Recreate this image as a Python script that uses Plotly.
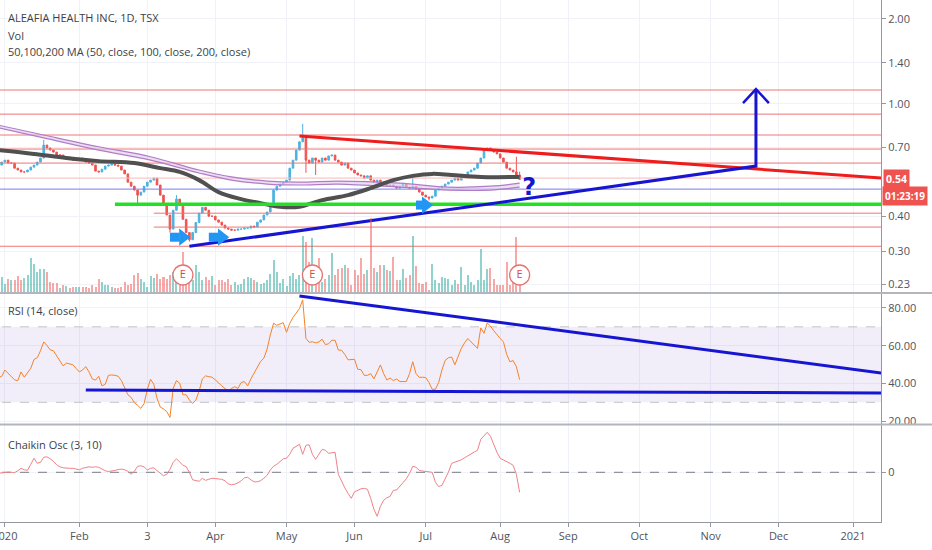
import numpy as np
import pandas as pd
import plotly.graph_objects as go
from plotly.subplots import make_subplots

# trading days shown on the chart (Dec 30 2019 .. Aug 11 2020)
days = pd.bdate_range("2019-12-30", "2020-08-11")

close = [0.607, 0.622,
         0.632, 0.617, 0.617, 0.592, 0.583, 0.574, 0.574, 0.583, 0.597, 0.607, 0.622, 0.643,
         0.715, 0.698, 0.686, 0.675, 0.659, 0.659, 0.648, 0.648, 0.643, 0.632, 0.632,
         0.643, 0.632, 0.622, 0.617, 0.607, 0.578, 0.574, 0.587, 0.602, 0.607, 0.612, 0.607,
         0.602, 0.583, 0.565, 0.528, 0.511, 0.495, 0.475, 0.487,
         0.511, 0.528, 0.537, 0.546, 0.516, 0.475, 0.438, 0.404, 0.36, 0.42, 0.46, 0.44,
         0.39, 0.35, 0.33, 0.35, 0.38, 0.41, 0.43, 0.42, 0.40, 0.40,
         0.388, 0.381, 0.372, 0.363, 0.36, 0.357, 0.357, 0.36, 0.36, 0.363, 0.363, 0.369,
         0.366, 0.381, 0.388, 0.404, 0.414, 0.438, 0.495, 0.511, 0.52, 0.528,
         0.537, 0.592, 0.632, 0.686, 0.734, 0.758, 0.632, 0.617, 0.643, 0.632, 0.622,
         0.643, 0.632, 0.654, 0.659, 0.632, 0.622, 0.607, 0.617, 0.592, 0.583,
         0.569, 0.56, 0.556, 0.546, 0.556, 0.537, 0.528, 0.537, 0.524, 0.528, 0.511,
         0.516, 0.511, 0.503, 0.511, 0.52, 0.507, 0.503, 0.511, 0.499, 0.487, 0.475,
         0.468, 0.464, 0.471, 0.495, 0.503, 0.511, 0.52, 0.528, 0.537, 0.546, 0.537, 0.556,
         0.56, 0.574, 0.583, 0.592, 0.617, 0.643, 0.686, 0.698, 0.686, 0.675, 0.665,
         0.643, 0.622, 0.592, 0.583, 0.574, 0.56, 0.54]
first_open = 0.60
wick_high = {"2020-01-17": 0.745, "2020-03-16": 0.475, "2020-05-08": 0.85,
             "2020-06-25": 0.565, "2020-08-10": 0.65, "2020-08-11": 0.575}
wick_low = {"2020-02-27": 0.445, "2020-03-12": 0.35, "2020-03-20": 0.325,
            "2020-05-11": 0.57, "2020-05-14": 0.56, "2020-07-02": 0.455}

vol_100k = [33, 15, 8, 13, 12, 12, 16, 12, 14, 17, 34, 28, 20, 23, 23, 20, 10, 9, 9, 4,
            7, 6, 4, 5, 5, 5, 5, 5, 4, 7, 5, 13, 10, 7, 7, 5, 4, 4, 5, 10,
            7, 8, 17, 19, 13, 10, 5, 16, 14, 18, 13, 15, 13, 17, 20, 25, 22, 40, 18, 15,
            12, 27, 20, 12, 15, 12, 16, 7, 12, 12, 10, 13, 7, 10, 7, 8, 13, 15, 14, 12,
            10, 8, 9,
            12, 18, 32, 20, 9, 13, 6, 16, 19, 13, 17, 56, 50, 30, 54,
            13, 34, 10, 13, 17, 39, 17, 23, 24, 27, 24, 7, 22, 17, 34, 18, 22, 74,
            24, 20, 27, 27, 22, 21, 35, 12, 12, 23, 14, 17, 56,
            26, 9, 8, 10, 2, 28, 12, 9, 15, 14, 13, 7, 12, 8, 25, 7, 17, 10, 7, 12, 43,
            12, 23, 24, 13, 7, 7, 7, 30, 7, 10, 55, 14]

rsi = [43.3, 43.6, 47.1, 45.2, 43.3, 41.9, 41.5, 46.1, 43.3, 45.7, 48, 52.7, 53.6, 57.3,
       62, 60.1, 57.8, 57.3, 54.5, 51.7, 49.3, 50.8, 50.3, 49.9, 48, 46.1, 47.1, 48.9,
       46.1, 42.4, 41.8, 43.8, 38.7, 39.6, 44.3, 44.5, 44.3, 43.8, 41.5, 37.7, 34, 32.6,
       29.8, 28.4, 26.8, 29.3, 36.8, 42.2, 39.6, 32.1, 27.5, 26.5, 25.1, 22, 37.5, 41.5,
       40.1, 34, 34, 31.2, 29.4, 31.2, 35.9, 42.4, 44, 43.6, 43.3, 41.9, 40.1, 38.7, 37.3,
       36.1, 37.3, 38.3, 37.3, 40.5, 41, 38.7, 42.4, 45.7, 48.9, 51.7, 53.4, 58.2, 65.7,
       71.9, 70.8, 71.3, 72.2, 67.1, 71.8, 75, 77.4, 79.7, 84.3, 63.8, 61.8, 62.1, 61.5,
       62, 63.4, 60.6, 61, 62.9, 62.9, 57.7, 57.6, 55.4, 52.5, 52.7, 52.8, 47.5, 47.3,
       44.3, 44.3, 45.2, 42.4, 46.1, 49.8, 45.2, 41.8, 42.9, 41.5, 42.4, 41, 41, 41,
       45.2, 51.5, 45.2, 43.2, 43.3, 43.1, 40.5, 36.9, 36.9, 40.5, 47.1, 52.2, 53.6, 54,
       49.9, 54.5, 58.6, 61.5, 63.8, 62, 60.1, 58.6, 69.4, 66.6, 72, 70.4, 68, 65.7,
       63.8, 62.1, 55.4, 51.5, 52.1, 48.9, 42]

chaikin = [-1, -0.5, 0, 0.2, 0, -0.3, 1.5, 4, 2.5, 2, 8, 14, 9, 10, 15, 15.5, 13.5, 11,
           7.5, 5.5, 4.5, 4, 4, 4, 3, 2.5, 4, 5, 5.5, 5, 5.5, 5, 3, 1.5, 0.8, 1, 1.8,
           2.8, 3.2, 2.6, 1, -2, 1, 6, 6.5, 5.5, 2.3, 4, 4.5, 1.7, -1, -3.5, -2, 3, 10,
           13.5, 10.5, 7, 5.7, 0, -7.5, -8.5, -9, -6, -8, -7, -6, -6.3, -6.5, -7, -8.5,
           -11.5, -12.5, -12, -10.5, -8.5, -5.5, -5, -7.5, -9.5, -9.5, -8.3, -6, -3, 2.5,
           6, 8, 10.5, 13.5, 14, 18, 24, 26, 28, 18, 27, 27.5, 18, 13, 18, 23, 22, 19,
           19.5, 20, -2, -9, -15.5, -21, -26, -19.5, -18, -16.5, -16, -17, -26, -37, -44,
           -34, -28, -25.5, -24, -18, -17.7, -14, -10.5, -6.5, -1, 6, 5, 2, 1.3, 1, 0.6,
           0, -10, -14.3, -13, -7, 0, 9, 10, 11, 12.5, 14.5, 16.7, 18.5, 20.3, 22, 33,
           36.5, 40, 36, 28, 20, 14, 12.5, 11, 9, 7, -2, -20]

# moving averages (sampled along the curves)
ma50_dates = ["2019-12-30", "2020-01-14", "2020-01-28", "2020-02-11", "2020-02-26",
              "2020-03-09", "2020-03-17", "2020-03-25", "2020-04-02", "2020-04-13",
              "2020-04-21", "2020-04-29", "2020-05-07", "2020-05-18", "2020-05-28",
              "2020-06-08", "2020-06-17", "2020-06-25", "2020-07-03", "2020-07-13",
              "2020-07-24", "2020-08-11"]
ma50 = [0.686, 0.665, 0.643, 0.627, 0.617, 0.592, 0.574, 0.537, 0.487, 0.460, 0.445,
        0.432, 0.432, 0.456, 0.475, 0.503, 0.537, 0.556, 0.565, 0.560, 0.551, 0.551]
ma_long_dates = ["2019-12-30", "2020-01-17", "2020-02-11", "2020-03-04", "2020-03-25",
                 "2020-04-08", "2020-04-23", "2020-05-07", "2020-05-25", "2020-06-19",
                 "2020-07-10", "2020-07-29", "2020-08-11"]
ma100 = [0.841, 0.776, 0.705, 0.650, 0.583, 0.551, 0.533, 0.528, 0.533, 0.524, 0.507, 0.511, 0.524]
ma200 = [0.823, 0.758, 0.686, 0.632, 0.569, 0.537, 0.520, 0.516, 0.520, 0.507, 0.495, 0.495, 0.507]

# drawings
red_levels = [1.12, 0.92, 0.776, 0.692, 0.617, 0.313]
faint_level = 0.546
late_red_levels = [0.410, 0.366]
late_red_start = "2020-03-05"
blue_level = 0.499
green_level = 0.441
green_start = "2020-02-18"
red_trend_x = ["2020-05-07", "2021-01-14"]
red_trend_y = [0.769, 0.546]
blue_trend_x = ["2020-03-20", "2020-11-20", "2020-11-20"]
blue_trend_y = [0.313, 0.602, 1.129]
arrow_head_x = ["2020-11-16", "2020-11-20", "2020-11-26"]
arrow_head_y = [1.007, 1.129, 1.007]
block_arrows = [("2020-03-12", "2020-03-17", "2020-03-18", 0.337),
                ("2020-03-30", "2020-04-02", "2020-04-03", 0.337),
                ("2020-06-26", "2020-06-30", "2020-07-01", 0.438)]
question_at = ("2020-08-14", 0.50)
earnings_days = ["2020-03-18", "2020-05-13", "2020-08-11"]
rsi_down_x = ["2020-05-07", "2021-01-14"]
rsi_down_y = [86.4, 45.4]
rsi_flat_x = ["2020-02-05", "2021-01-14"]
rsi_flat_y = [36.5, 34.9]

price_ticks = [0.23, 0.30, 0.40, 0.70, 1.00, 1.40, 2.00]
tick_dates = ["2020-01-01", "2020-02-03", "2020-03-03", "2020-04-01", "2020-05-01",
              "2020-06-01", "2020-07-01", "2020-08-03", "2020-09-01", "2020-10-01",
              "2020-11-02", "2020-12-01", "2021-01-01"]
tick_text = ["2020", "Feb", "3", "Apr", "May", "Jun", "Jul", "Aug", "Sep", "Oct", "Nov", "Dec", "2021"]

span = ["2019-12-20", "2021-01-25"]
UP, DOWN = "#4ab3e0", "#ef5350"
BLUE = "#1616d2"
FONT = "Open Sans"
TXT = "#50535e"
GRID = "#f0f2f7"

opens = [first_open] + close[:-1]
keys = [d.strftime("%Y-%m-%d") for d in days]
highs = [wick_high.get(k, max(o, c)) for k, o, c in zip(keys, opens, close)]
lows = [wick_low.get(k, min(o, c)) for k, o, c in zip(keys, opens, close)]
vol_colors = ["rgba(38,166,154,0.5)" if c >= o else "rgba(239,83,80,0.5)"
              for o, c in zip(opens, close)]

fig = make_subplots(rows=3, cols=1, shared_xaxes=True,
                    specs=[[{"secondary_y": True}], [{}], [{}]])

# volume (overlay at bottom of price pane)
fig.add_trace(go.Bar(x=days, y=vol_100k, marker_color=vol_colors, marker_line_width=0,
                     width=0.62 * 86400000), row=1, col=1, secondary_y=True)

# horizontal levels
def hline(y, x0, color, width, row=1, dash=None):
    fig.add_trace(go.Scatter(x=[x0, span[1]], y=[y, y], mode="lines",
                             line=dict(color=color, width=width, dash=dash)),
                  row=row, col=1)

for lv in red_levels:
    hline(lv, span[0], "#f07474", 1)
hline(faint_level, span[0], "#f6b8b8", 1)
for lv in late_red_levels:
    hline(lv, late_red_start, "#f07474", 1)
hline(blue_level, span[0], "#7b7bf0", 1)

# long moving averages (double purple band)
fig.add_trace(go.Scatter(x=ma_long_dates, y=ma100, mode="lines", line_shape="spline",
                         line=dict(color="#b07cc6", width=1.2)), row=1, col=1)
fig.add_trace(go.Scatter(x=ma_long_dates, y=ma200, mode="lines", line_shape="spline",
                         fill="tonexty", fillcolor="rgba(225,200,236,0.6)",
                         line=dict(color="#b07cc6", width=1.2)), row=1, col=1)
fig.add_trace(go.Scatter(x=ma50_dates, y=ma50, mode="lines", line_shape="spline",
                         line=dict(color="#505050", width=4)), row=1, col=1)

hline(green_level, green_start, "#22e022", 3.5)

fig.add_trace(go.Candlestick(x=days, open=opens, high=highs, low=lows, close=close,
                             increasing=dict(line=dict(color=UP, width=1), fillcolor=UP),
                             decreasing=dict(line=dict(color=DOWN, width=1), fillcolor=DOWN),
                             whiskerwidth=0), row=1, col=1)

# trend lines
fig.add_trace(go.Scatter(x=red_trend_x, y=red_trend_y, mode="lines",
                         line=dict(color="#ee1c1c", width=3)), row=1, col=1)
fig.add_trace(go.Scatter(x=blue_trend_x, y=blue_trend_y, mode="lines",
                         line=dict(color=BLUE, width=3)), row=1, col=1)
fig.add_trace(go.Scatter(x=arrow_head_x, y=arrow_head_y, mode="lines",
                         line=dict(color=BLUE, width=2.5)), row=1, col=1)

for tail, shaft_end, head, lv in block_arrows:
    fig.add_trace(go.Scatter(x=[tail, shaft_end], y=[lv, lv], mode="lines",
                             line=dict(color="#2196f3", width=9)), row=1, col=1)
    fig.add_trace(go.Scatter(x=[head], y=[lv], mode="markers",
                             marker=dict(symbol="triangle-right", size=15, color="#2196f3")),
                  row=1, col=1)

fig.add_trace(go.Scatter(x=[question_at[0]], y=[question_at[1]], mode="text",
                         text=["<b>?</b>"], textfont=dict(size=24, color=BLUE, family="DejaVu Sans")),
              row=1, col=1)

# earnings markers on the volume axis
fig.add_trace(go.Scatter(x=earnings_days, y=[17] * len(earnings_days), mode="markers+text",
                         text=["E"] * len(earnings_days), textposition="middle center",
                         textfont=dict(size=11, color="#e04848", family=FONT),
                         marker=dict(size=20, color="white", line=dict(color="#e57373", width=1.3))),
              row=1, col=1, secondary_y=True)

# RSI pane
fig.add_trace(go.Scatter(x=span, y=[30, 30], mode="lines",
                         line=dict(color="#c4c4c4", width=1, dash="dash")), row=2, col=1)
fig.add_trace(go.Scatter(x=span, y=[70, 70], mode="lines", fill="tonexty",
                         fillcolor="rgba(149,117,205,0.12)",
                         line=dict(color="#c4c4c4", width=1, dash="dash")), row=2, col=1)
fig.add_trace(go.Scatter(x=days, y=rsi, mode="lines", line=dict(color="#f5822a", width=1)),
              row=2, col=1)
fig.add_trace(go.Scatter(x=rsi_down_x, y=rsi_down_y, mode="lines",
                         line=dict(color=BLUE, width=3)), row=2, col=1)
fig.add_trace(go.Scatter(x=rsi_flat_x, y=rsi_flat_y, mode="lines",
                         line=dict(color=BLUE, width=3)), row=2, col=1)

# Chaikin pane
fig.add_trace(go.Scatter(x=span, y=[0, 0], mode="lines",
                         line=dict(color="#787b86", width=1, dash="dash")), row=3, col=1)
fig.add_trace(go.Scatter(x=days, y=chaikin, mode="lines", line=dict(color="#ef8288", width=1)),
              row=3, col=1)

H = 522.0
fig.update_xaxes(type="date", range=["2019-12-30 12:00", "2021-01-13 15:00"],
                 domain=[0, 1], automargin=False,
                 rangebreaks=[dict(bounds=["sat", "mon"])],
                 showgrid=True, gridcolor=GRID, zeroline=False,
                 tickvals=tick_dates, ticktext=tick_text, rangeslider_visible=False)
fig.update_xaxes(showticklabels=False, row=1, col=1)
fig.update_xaxes(showticklabels=False, row=2, col=1)
fig.update_xaxes(showticklabels=True, ticks="outside", ticklen=4, tickcolor="#9598a1",
                 showline=True, linecolor="#9598a1", linewidth=1, ticklabeloverflow="allow",
                 tickfont=dict(family=FONT, size=11, color=TXT), row=3, col=1)

axis_common = dict(side="right", showline=True, linecolor="#9598a1", linewidth=1,
                   ticks="outside", ticklen=4, tickcolor="#9598a1", zeroline=False,
                   automargin=False,
                   showgrid=True, gridcolor=GRID, tickfont=dict(family=FONT, size=11, color=TXT))
fig.update_layout(
    yaxis=dict(type="log", domain=[(H - 292) / H, 1.0],
               range=[np.log10(0.2155), np.log10(2.335)],
               tickvals=price_ticks, tickformat=".2f", **axis_common),
    yaxis2=dict(domain=[(H - 292) / H, 1.0], range=[0, 292], visible=False,
                overlaying="y", automargin=False),
    yaxis3=dict(domain=[(H - 424) / H, (H - 294) / H], range=[18.5, 87.4],
                tickvals=[20, 40, 60, 80], tickformat=".2f", **axis_common),
    yaxis4=dict(domain=[0, (H - 425) / H], range=[-49.7, 47.3],
                tickvals=[0], ticktext=["0"], **axis_common),
)

ann = []
for txt, py in [("ALEAFIA HEALTH INC, 1D, TSX", 17), ("Vol", 35),
                ("50,100,200 MA (50, close, 100, close, 200, close)", 52),
                ("RSI (14, close)", 311), ("Chaikin Osc (3, 10)", 444)]:
    ann.append(dict(text=txt, xref="paper", yref="paper", x=6 / 881, y=(H - py) / H,
                    xanchor="left", yanchor="middle", showarrow=False,
                    font=dict(family=FONT, size=11, color="#3c3f48")))
ann.append(dict(text="<b>0.54</b>", xref="paper", yref="y", x=1, xshift=2, xanchor="left",
                y=np.log10(close[-1]), yanchor="middle", showarrow=False, bgcolor=DOWN,
                borderpad=2, font=dict(family=FONT, size=10.5, color="white")))
ann.append(dict(text="<b>01:23:19</b>", xref="paper", yref="y", x=1, xshift=1, xanchor="left",
                y=np.log10(close[-1]), yshift=-17, yanchor="middle", showarrow=False,
                bgcolor=DOWN, borderpad=2, font=dict(family=FONT, size=10, color="white")))

seps = []
for py in [293, 424.5]:
    seps.append(dict(type="line", xref="paper", yref="paper", x0=0, x1=932 / 881,
                     y0=(H - py) / H, y1=(H - py) / H, line=dict(color="#b2b5be", width=2)))

fig.update_layout(width=932, height=550, margin=dict(l=0, r=51, t=0, b=28, autoexpand=False),
                  paper_bgcolor="white", plot_bgcolor="white", showlegend=False,
                  annotations=ann, shapes=seps, bargap=0)

fig.write_html("out.html", config={"displayModeBar": False},
               post_script="document.body.style.margin='0';")
